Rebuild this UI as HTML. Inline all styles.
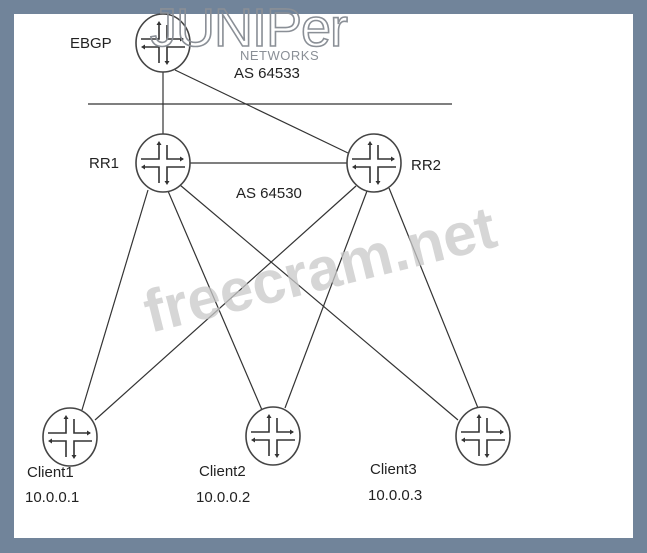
<!DOCTYPE html>
<html><head><style>
html,body{margin:0;padding:0;background:#71849a;width:647px;height:553px;overflow:hidden}
svg{display:block}
text{font-family:"Liberation Sans",sans-serif}
</style></head><body>
<svg width="647" height="553" viewBox="0 0 647 553">
<defs>
<g id="r">
<ellipse cx="0" cy="0" rx="27" ry="29" fill="#fff" stroke="#444" stroke-width="1.6"/>
<g stroke="#333" stroke-width="1.6" fill="none">
<path d="M-4,-20 V-4 H-22 M4,-18 V-4 H20 M-20,4 H-4 V20 M22,4 H4 V18"/>
</g>
<g fill="#333">
<path d="M-4,-22 l-2.5,4 h5z M21,-4 l-4,-2.5 v5z M-22,4 l4,-2.5 v5z M4,22 l-2.5,-4 h5z"/>
</g>
</g>
</defs>
<rect x="14" y="14" width="619" height="524" fill="#fff"/>
<g stroke="#333" stroke-width="1.2">
<line x1="163" y1="72" x2="163" y2="135"/>
<line x1="175" y1="70" x2="348" y2="153"/>
<line x1="88" y1="104" x2="452" y2="104"/>
<line x1="190" y1="163" x2="347" y2="163"/>
<line x1="148" y1="190" x2="82" y2="410"/>
<line x1="168" y1="191" x2="262" y2="410"/>
<line x1="180" y1="185" x2="458" y2="420"/>
<line x1="356" y1="186" x2="95" y2="420"/>
<line x1="367" y1="191" x2="285" y2="408"/>
<line x1="389" y1="188" x2="478" y2="408"/>
</g>
<use href="#r" x="163" y="43"/>
<use href="#r" x="163" y="163"/>
<use href="#r" x="374" y="163"/>
<use href="#r" x="70" y="437"/>
<use href="#r" x="273" y="436"/>
<use href="#r" x="483" y="436"/>
<text x="150" y="46" font-size="54" fill="none" stroke="#8a8f96" stroke-width="1.6" letter-spacing="-1">JUNIPer</text>
<text x="240" y="60" font-size="13" fill="#8a8f96" letter-spacing="0.5">NETWORKS</text>
<g font-size="15" fill="#222">
<text x="70" y="48">EBGP</text>
<text x="234" y="78">AS 64533</text>
<text x="89" y="168">RR1</text>
<text x="411" y="170">RR2</text>
<text x="236" y="198">AS 64530</text>
<text x="27" y="477">Client1</text>
<text x="25" y="502">10.0.0.1</text>
<text x="199" y="476">Client2</text>
<text x="196" y="502">10.0.0.2</text>
<text x="370" y="474">Client3</text>
<text x="368" y="500">10.0.0.3</text>
</g>
<text x="320" y="290" font-size="60" font-weight="bold" fill="#c8c8c8" fill-opacity="0.75" text-anchor="middle" transform="rotate(-14 320 270)">freecram.net</text>
</svg>
</body></html>
